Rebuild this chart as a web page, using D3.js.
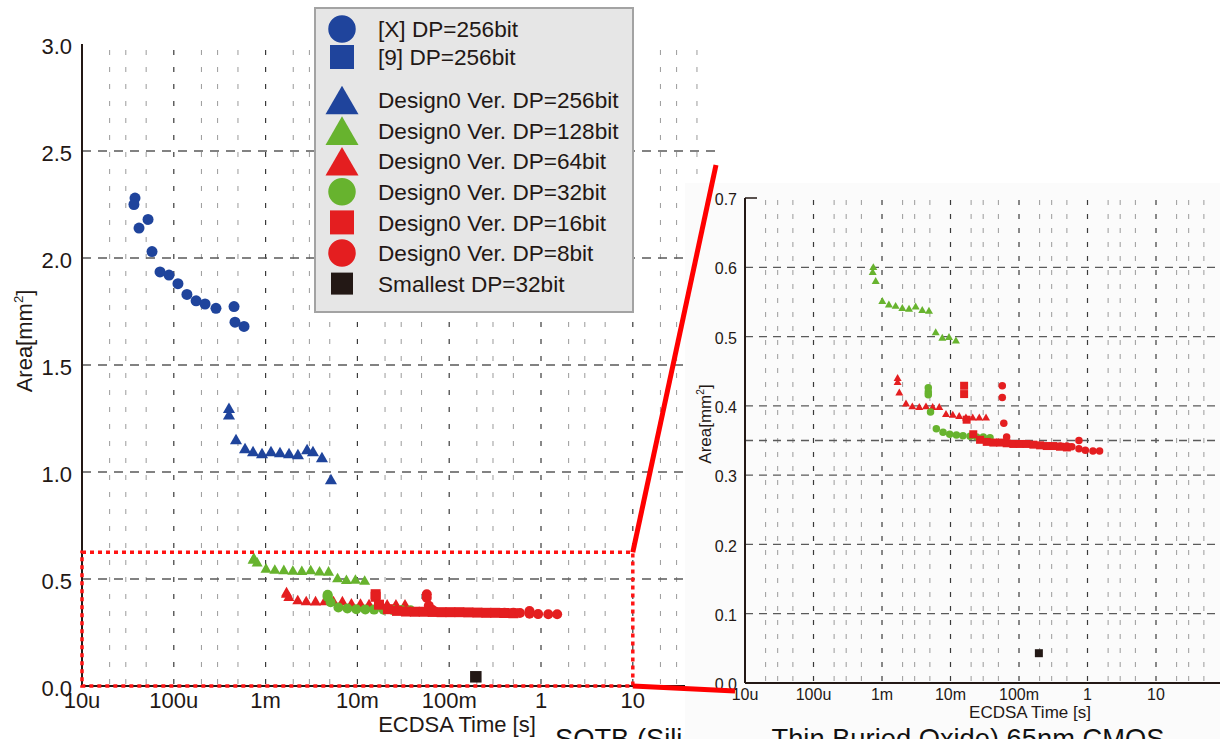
<!DOCTYPE html>
<html>
<head>
<meta charset="utf-8">
<script src="https://cdn.jsdelivr.net/npm/d3@7"></script>
<style>
  body { margin: 0; background: #fff; }
  svg { display: block; font-family: Arial, "Liberation Sans", sans-serif; }
</style>
</head>
<body>
<div id="chart"></div>
<script>
// [time (s), area (mm2)]
const refX256 = [[37.8e-6, 2.28], [36.8e-6, 2.25], [52.4e-6, 2.18], [41.8e-6, 2.14], [57.9e-6, 2.03],
  [70.8e-6, 1.935], [88.7e-6, 1.92], [111e-6, 1.88], [139e-6, 1.83], [175e-6, 1.80], [219e-6, 1.785],
  [288e-6, 1.765], [453e-6, 1.773], [464e-6, 1.70], [582e-6, 1.68]];
const ref9_256 = [];
const dp256 = [[399e-6, 1.30], [399e-6, 1.27], [476e-6, 1.154], [597e-6, 1.112], [730e-6, 1.098],
  [914e-6, 1.089], [1.145e-3, 1.098], [1.435e-3, 1.093], [1.80e-3, 1.089], [2.25e-3, 1.084],
  [2.83e-3, 1.107], [3.28e-3, 1.098], [4.11e-3, 1.07], [5.15e-3, 0.967]];
const dp128 = [[747e-6, 0.601], [731e-6, 0.594], [809e-6, 0.581], [1.01e-3, 0.552], [1.26e-3, 0.547],
  [1.58e-3, 0.545], [1.98e-3, 0.542], [2.48e-3, 0.541], [3.10e-3, 0.544], [3.87e-3, 0.539],
  [4.85e-3, 0.538], [6.08e-3, 0.507], [7.59e-3, 0.499], [9.51e-3, 0.50], [12.0e-3, 0.495]];
const dp64 = [[1.69e-3, 0.441], [1.69e-3, 0.435], [1.79e-3, 0.42], [2.24e-3, 0.404], [2.77e-3, 0.40],
  [3.50e-3, 0.399], [4.39e-3, 0.40], [5.49e-3, 0.399], [6.86e-3, 0.399], [8.60e-3, 0.389],
  [10.8e-3, 0.388], [13.4e-3, 0.386], [16.8e-3, 0.384], [21.1e-3, 0.384], [26.3e-3, 0.384], [33.0e-3, 0.384]];
const dp32 = [[4.74e-3, 0.426], [4.74e-3, 0.42], [4.74e-3, 0.416], [5.11e-3, 0.391], [6.21e-3, 0.367],
  [7.78e-3, 0.362], [9.73e-3, 0.359], [12.2e-3, 0.358], [15.2e-3, 0.357], [19.3e-3, 0.356],
  [24.1e-3, 0.355], [30.1e-3, 0.355], [37.8e-3, 0.354]];
const dp16 = [[15.8e-3, 0.429], [15.8e-3, 0.417], [17.2e-3, 0.38], [21.5e-3, 0.359], [27.0e-3, 0.351],
  [33.8e-3, 0.348], [42.2e-3, 0.347], [52.8e-3, 0.347], [66.1e-3, 0.346], [82.6e-3, 0.345],
  [103e-3, 0.345], [129e-3, 0.345], [162e-3, 0.344], [203e-3, 0.343], [254e-3, 0.342],
  [317e-3, 0.342], [397e-3, 0.341], [0.5, 0.340]];
const dp8 = [[0.057, 0.429], [0.057, 0.412], [0.060, 0.375], [0.066, 0.355], [0.40, 0.342],
  [0.50, 0.342], [0.59, 0.341], [0.75, 0.35], [0.75, 0.338], [0.93, 0.336], [1.2, 0.335], [1.5, 0.335]];
const smallest32 = [[0.195, 0.043]];

const legendLabels = ["[X] DP=256bit", "[9] DP=256bit", "Design0 Ver. DP=256bit", "Design0 Ver. DP=128bit",
  "Design0 Ver. DP=64bit", "Design0 Ver. DP=32bit", "Design0 Ver. DP=16bit", "Design0 Ver. DP=8bit",
  "Smallest DP=32bit"];

const timeTicks = [1e-5, 1e-4, 1e-3, 1e-2, 1e-1, 1, 10];
const timeTickLabels = ["10u", "100u", "1m", "10m", "100m", "1", "10"];
const mainAreaTicks = [0, 0.5, 1.0, 1.5, 2.0, 2.5, 3.0];
const zoomAreaTicks = [0, 0.1, 0.2, 0.3, 0.4, 0.5, 0.6, 0.7];
const zoomBox = {t: [1e-5, 10], a: [0, 0.625]};

const BLUE = "#1f449c", GREEN = "#67b32e", RED = "#e41e20", BLACK = "#231815";

const series = [
  {data: refX256, shape: "circle", color: BLUE},
  {data: ref9_256, shape: "square", color: BLUE},
  {data: dp256, shape: "triangle", color: BLUE},
  {data: dp128, shape: "triangle", color: GREEN},
  {data: dp64, shape: "triangle", color: RED},
  {data: dp32, shape: "circle", color: GREEN},
  {data: dp16, shape: "square", color: RED},
  {data: dp8, shape: "circle", color: RED},
  {data: smallest32, shape: "square", color: BLACK}
];
series.forEach((s, i) => s.label = legendLabels[i]);

const width = 1220, height = 739;
const svg = d3.select("#chart").append("svg")
  .attr("width", width)
  .attr("height", height);

// size = circle diameter / square side / triangle side, in px
function symbolPath(shape, size) {
  if (shape === "circle") return d3.symbol(d3.symbolCircle, Math.PI * size * size / 4)();
  if (shape === "square") return d3.symbol(d3.symbolSquare, size * size)();
  return d3.symbol(d3.symbolTriangle, Math.sqrt(3) / 4 * size * size)();
}
// d3 triangles sit on their centroid, shift to bbox centre
function symbolShift(shape, size) {
  return shape === "triangle" ? size * Math.sqrt(3) / 12 : 0;
}

function decadeGrid(lo, hi) {
  const major = [], minor = [];
  for (let e = lo; e <= hi; e++) {
    if (e > lo && e < hi) major.push(+`1e${e}`);
    if (e < hi) [2, 3, 5].forEach(m => minor.push(+`${m}e${e}`));
  }
  return {major, minor};
}

function drawPanel(g, x, y, opt) {
  const [x0] = x.range();
  const [y0, y1] = y.range();
  const grid = decadeGrid(-5, 2);

  g.append("g").selectAll("line")
    .data(grid.minor)
    .join("line")
    .attr("x1", d => x(d)).attr("x2", d => x(d))
    .attr("y1", y1 + opt.gridTop).attr("y2", y0)
    .attr("stroke", "#9a9a9a")
    .attr("stroke-width", 1)
    .attr("stroke-dasharray", opt.vDash);

  g.append("g").selectAll("line")
    .data(grid.major)
    .join("line")
    .attr("x1", d => x(d)).attr("x2", d => x(d))
    .attr("y1", y1 + opt.gridTop).attr("y2", y0)
    .attr("stroke", "#3a3a3a")
    .attr("stroke-width", 1.2)
    .attr("stroke-dasharray", opt.vDash);

  g.append("g").selectAll("line")
    .data(opt.hGrid)
    .join("line")
    .attr("x1", x0).attr("x2", opt.hEnd)
    .attr("y1", d => y(d)).attr("y2", d => y(d))
    .attr("stroke", "#5a5a5a")
    .attr("stroke-width", 1.3)
    .attr("stroke-dasharray", opt.hDash);

  // axes lines
  g.append("line")
    .attr("x1", x0).attr("x2", x0).attr("y1", y1).attr("y2", y0)
    .attr("stroke", BLACK).attr("stroke-width", 2);
  g.append("line")
    .attr("x1", x0).attr("x2", opt.hEnd).attr("y1", y0).attr("y2", y0)
    .attr("stroke", BLACK).attr("stroke-width", 2);

  // tick labels
  g.append("g").selectAll("text")
    .data(opt.yTicks)
    .join("text")
    .attr("x", x0 - opt.yLabelGap)
    .attr("y", d => y(d))
    .attr("dy", "0.45em")
    .attr("text-anchor", "end")
    .attr("font-size", opt.tickFont)
    .attr("fill", BLACK)
    .text(d => d3.format(".1f")(d));

  g.append("g").selectAll("text")
    .data(timeTicks)
    .join("text")
    .attr("x", d => x(d))
    .attr("y", y0 + opt.xLabelDrop)
    .attr("text-anchor", "middle")
    .attr("font-size", opt.tickFont)
    .attr("fill", BLACK)
    .text((d, i) => timeTickLabels[i]);

  g.append("text")
    .attr("x", opt.xTitle[0]).attr("y", opt.xTitle[1])
    .attr("text-anchor", "middle")
    .attr("font-size", opt.titleFont)
    .attr("fill", BLACK)
    .text("ECDSA Time [s]");

  const yt = g.append("text")
    .attr("transform", `translate(${opt.yTitle[0]},${opt.yTitle[1]}) rotate(-90)`)
    .attr("text-anchor", "middle")
    .attr("font-size", opt.titleFont)
    .attr("fill", BLACK);
  yt.append("tspan").text("Area[mm");
  yt.append("tspan").attr("font-size", opt.titleFont * 0.6).attr("dy", -opt.titleFont * 0.4).text("2");
  yt.append("tspan").attr("dy", opt.titleFont * 0.4).text("]");

  // markers, legend order is also the drawing order
  series.forEach(s => {
    const size = opt.markSize[s.shape] * (s.color === BLUE ? opt.blueScale : 1) * (s.color === BLACK ? opt.blackScale : 1);
    const shift = symbolShift(s.shape, size);
    g.append("g").selectAll("path")
      .data(s.data.filter(d => d[1] <= y.domain()[1]))
      .join("path")
      .attr("d", symbolPath(s.shape, size))
      .attr("transform", d => `translate(${x(d[0])},${y(d[1]) + shift})`)
      .attr("fill", s.color);
  });
}

// main chart
const xMain = d3.scaleLog().domain([1e-5, 100]).range([82, 724.6]);
const yMain = d3.scaleLinear().domain([0, 3]).range([686, 44]);
const gMain = svg.append("g");
drawPanel(gMain, xMain, yMain, {
  gridTop: 6, vDash: "5,12", hDash: "9,7", hGrid: [0.5, 1.0, 1.5, 2.0, 2.5], hEnd: 722,
  yTicks: mainAreaTicks, yLabelGap: 10, xLabelDrop: 22, tickFont: 22, titleFont: 22,
  xTitle: [457, 732], yTitle: [32, 341],
  markSize: {circle: 10, square: 10, triangle: 11}, blueScale: 1.1, blackScale: 1.15
});

// red zoom frame on the main chart
gMain.append("rect")
  .attr("x", xMain(zoomBox.t[0]))
  .attr("y", yMain(zoomBox.a[1]))
  .attr("width", xMain(zoomBox.t[1]) - xMain(zoomBox.t[0]))
  .attr("height", yMain(zoomBox.a[0]) - yMain(zoomBox.a[1]))
  .attr("fill", "none")
  .attr("stroke", "#ff1414")
  .attr("stroke-width", 3.5)
  .attr("stroke-dasharray", "4,4");

// legend
const legend = svg.append("g");
legend.append("rect")
  .attr("x", 315).attr("y", 8).attr("width", 318).attr("height", 304)
  .attr("fill", "#e6e6e6").attr("stroke", "#a3a3a3").attr("stroke-width", 2);
const legSize = {circle: 27.5, square: 24, triangle: 33};
const legRows = legend.selectAll("g.row")
  .data(series)
  .join("g")
  .attr("class", "row")
  .attr("transform", (d, i) => `translate(0,${29 + 28 * Math.min(i, 1) + (i >= 2 ? 43 + 30.6 * (i - 2) : 0)})`);
legRows.append("path")
  .attr("d", d => symbolPath(d.shape, d.color === BLACK ? 22 : legSize[d.shape]))
  .attr("transform", d => `translate(342,${symbolShift(d.shape, legSize[d.shape])})`)
  .attr("fill", d => d.color);
legRows.append("text")
  .attr("x", 378)
  .attr("dy", "0.36em")
  .attr("font-size", 22.6)
  .attr("fill", BLACK)
  .text(d => d.label);

// inset (zoomed view)
svg.append("rect")
  .attr("x", 685).attr("y", 183).attr("width", width - 685).attr("height", height - 183)
  .attr("fill", "#fbfbfb");
const xZoom = d3.scaleLog().domain([1e-5, 100]).range([745, 1224.5]);
const yZoom = d3.scaleLinear().domain([0, 0.7]).range([683, 198]);
const gZoom = svg.append("g");
drawPanel(gZoom, xZoom, yZoom, {
  gridTop: 2, vDash: "5,9", hDash: "8,6", hGrid: [0.1, 0.2, 0.3, 0.35, 0.4, 0.5, 0.6], hEnd: width,
  yTicks: zoomAreaTicks, yLabelGap: 8, xLabelDrop: 17, tickFont: 16, titleFont: 17,
  xTitle: [1030, 718], yTitle: [711, 424],
  markSize: {circle: 7.5, square: 8, triangle: 8}, blueScale: 1, blackScale: 1
});
gZoom.append("line")
  .attr("x1", 745).attr("x2", 757).attr("y1", yZoom(0.7)).attr("y2", yZoom(0.7))
  .attr("stroke", BLACK).attr("stroke-width", 1.5);

// connector lines from frame to inset
svg.append("line")
  .attr("x1", xMain(zoomBox.t[1])).attr("y1", yMain(zoomBox.a[1]))
  .attr("x2", 716).attr("y2", 165)
  .attr("stroke", "#ff0000").attr("stroke-width", 5);
svg.append("line")
  .attr("x1", xMain(zoomBox.t[1])).attr("y1", yMain(zoomBox.a[0]))
  .attr("x2", 735).attr("y2", 691)
  .attr("stroke", "#ff0000").attr("stroke-width", 5);

// caption cut by the bottom edge
const cap = svg.append("text")
  .attr("x", 555).attr("y", 748)
  .attr("font-size", 27.3)
  .attr("fill", "#111");
cap.append("tspan").text("SOTB (Sili");
cap.append("tspan").attr("fill", "#fbfbfb").text("con on ");
cap.append("tspan").text("Thin Buried Oxide) 65nm CMOS");
</script>
</body>
</html>
